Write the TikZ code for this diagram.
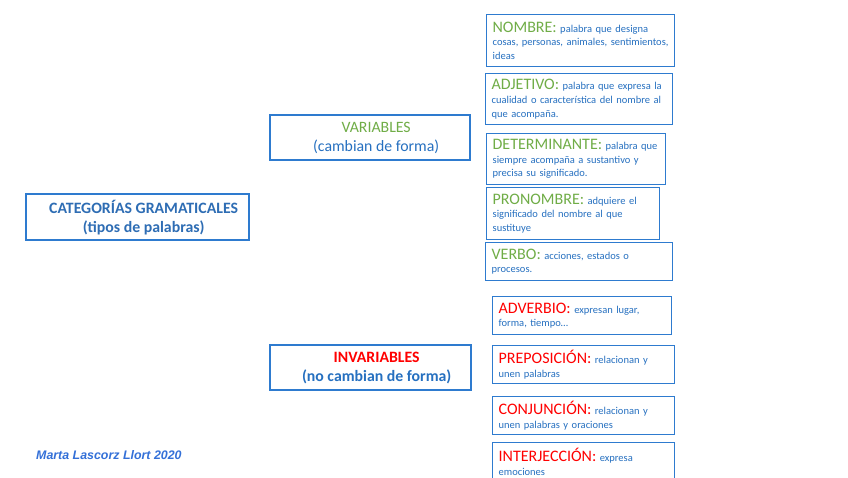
\documentclass[tikz,border=0pt]{standalone}
\usepackage{fontspec}
\setmainfont{Carlito}
\newfontfamily\sigfont{Liberation Sans}
\definecolor{boxblue}{HTML}{2E7BCF}
\definecolor{descblue}{HTML}{2670C0}
\definecolor{titleblue}{HTML}{2E6DB4}
\definecolor{hgreen}{HTML}{70AD47}
\definecolor{hred}{HTML}{FF0000}
\definecolor{sigblue}{HTML}{3370D8}
\begin{document}
\begin{tikzpicture}[x=1pt,y=-1pt,
  bigbox/.style={draw=boxblue, line width=2.3pt, anchor=north west, align=center, inner sep=0pt, font=\fontsize{15.8}{19}\selectfont},
  smallbox/.style={draw=boxblue, line width=1.3pt, anchor=north west, inner xsep=6pt, inner ysep=0pt, align=left, text=descblue, font=\fontsize{10.5}{13.6}\selectfont},
]
\useasboundingbox[fill=white] (0,0) rectangle (848,477);
\newcommand\hg[1]{{\fontsize{16}{13}\selectfont\color{hgreen}#1}}
\newcommand\hr[1]{{\fontsize{16}{13}\selectfont\color{hred}#1}}

\node[bigbox, minimum width=223pt, minimum height=46pt, text=titleblue] (cat) at (25,193)
  {\hspace*{12pt}\textbf{CATEGORÍAS GRAMATICALES}\\\hspace*{12pt}\textbf{(tipos de palabras)}};
\node[bigbox, minimum width=200pt, minimum height=45pt, text=descblue] (var) at (269,114)
  {\hspace*{12pt}{\color{hgreen}VARIABLES}\\\hspace*{12pt}(cambian de forma)};
\node[bigbox, minimum width=201pt, minimum height=45pt, text=descblue] (inv) at (269,344)
  {\hspace*{12pt}\textbf{\color{hred}INVARIABLES}\\\hspace*{12pt}\textbf{(no cambian de forma)}};

\node[smallbox, minimum width=188pt, minimum height=52pt, text width=176pt] (nombre) at (486,14)
  {\hg{NOMBRE:} palabra que designa\\cosas, personas, animales, sentimientos,\\ideas};
\node[smallbox, minimum width=187pt, minimum height=51pt, text width=175pt] (adjetivo) at (485,73)
  {\hg{ADJETIVO:} palabra que expresa la\\cualidad o característica del nombre al\\que acompaña.};
\node[smallbox, minimum width=179pt, minimum height=51pt, text width=167pt] (determinante) at (486,133)
  {\hg{DETERMINANTE:} palabra que\\siempre acompaña a sustantivo y\\precisa su significado.};
\node[smallbox, minimum width=173pt, minimum height=52pt, text width=161pt] (pronombre) at (486,187)
  {\hg{PRONOMBRE:} adquiere el\\significado del nombre al que\\sustituye};
\node[smallbox, minimum width=187pt, minimum height=38pt, text width=175pt] (verbo) at (485,242)
  {\hg{VERBO:} acciones, estados o\\procesos.};

\node[smallbox, minimum width=179pt, minimum height=38pt, text width=167pt] (adverbio) at (492,296)
  {\hr{ADVERBIO:} expresan lugar,\\forma, tiempo\ldots};
\node[smallbox, minimum width=182pt, minimum height=38pt, text width=170pt] (preposicion) at (492,345)
  {\hr{PREPOSICIÓN:} relacionan y\\unen palabras};
\node[smallbox, minimum width=182pt, minimum height=38pt, text width=170pt] (conjuncion) at (492,396)
  {\hr{CONJUNCIÓN:} relacionan y\\unen palabras y oraciones};
\node[smallbox, minimum width=182pt, minimum height=38pt, text width=170pt] (interjeccion) at (492,442)
  {\hr{INTERJECCIÓN:} expresa\\emociones};

\node[anchor=west, inner sep=0pt, text=sigblue, font=\sigfont\bfseries\itshape\fontsize{12.4}{14}\selectfont] (firma) at (36,455) {Marta Lascorz Llort 2020};
\end{tikzpicture}
\end{document}
